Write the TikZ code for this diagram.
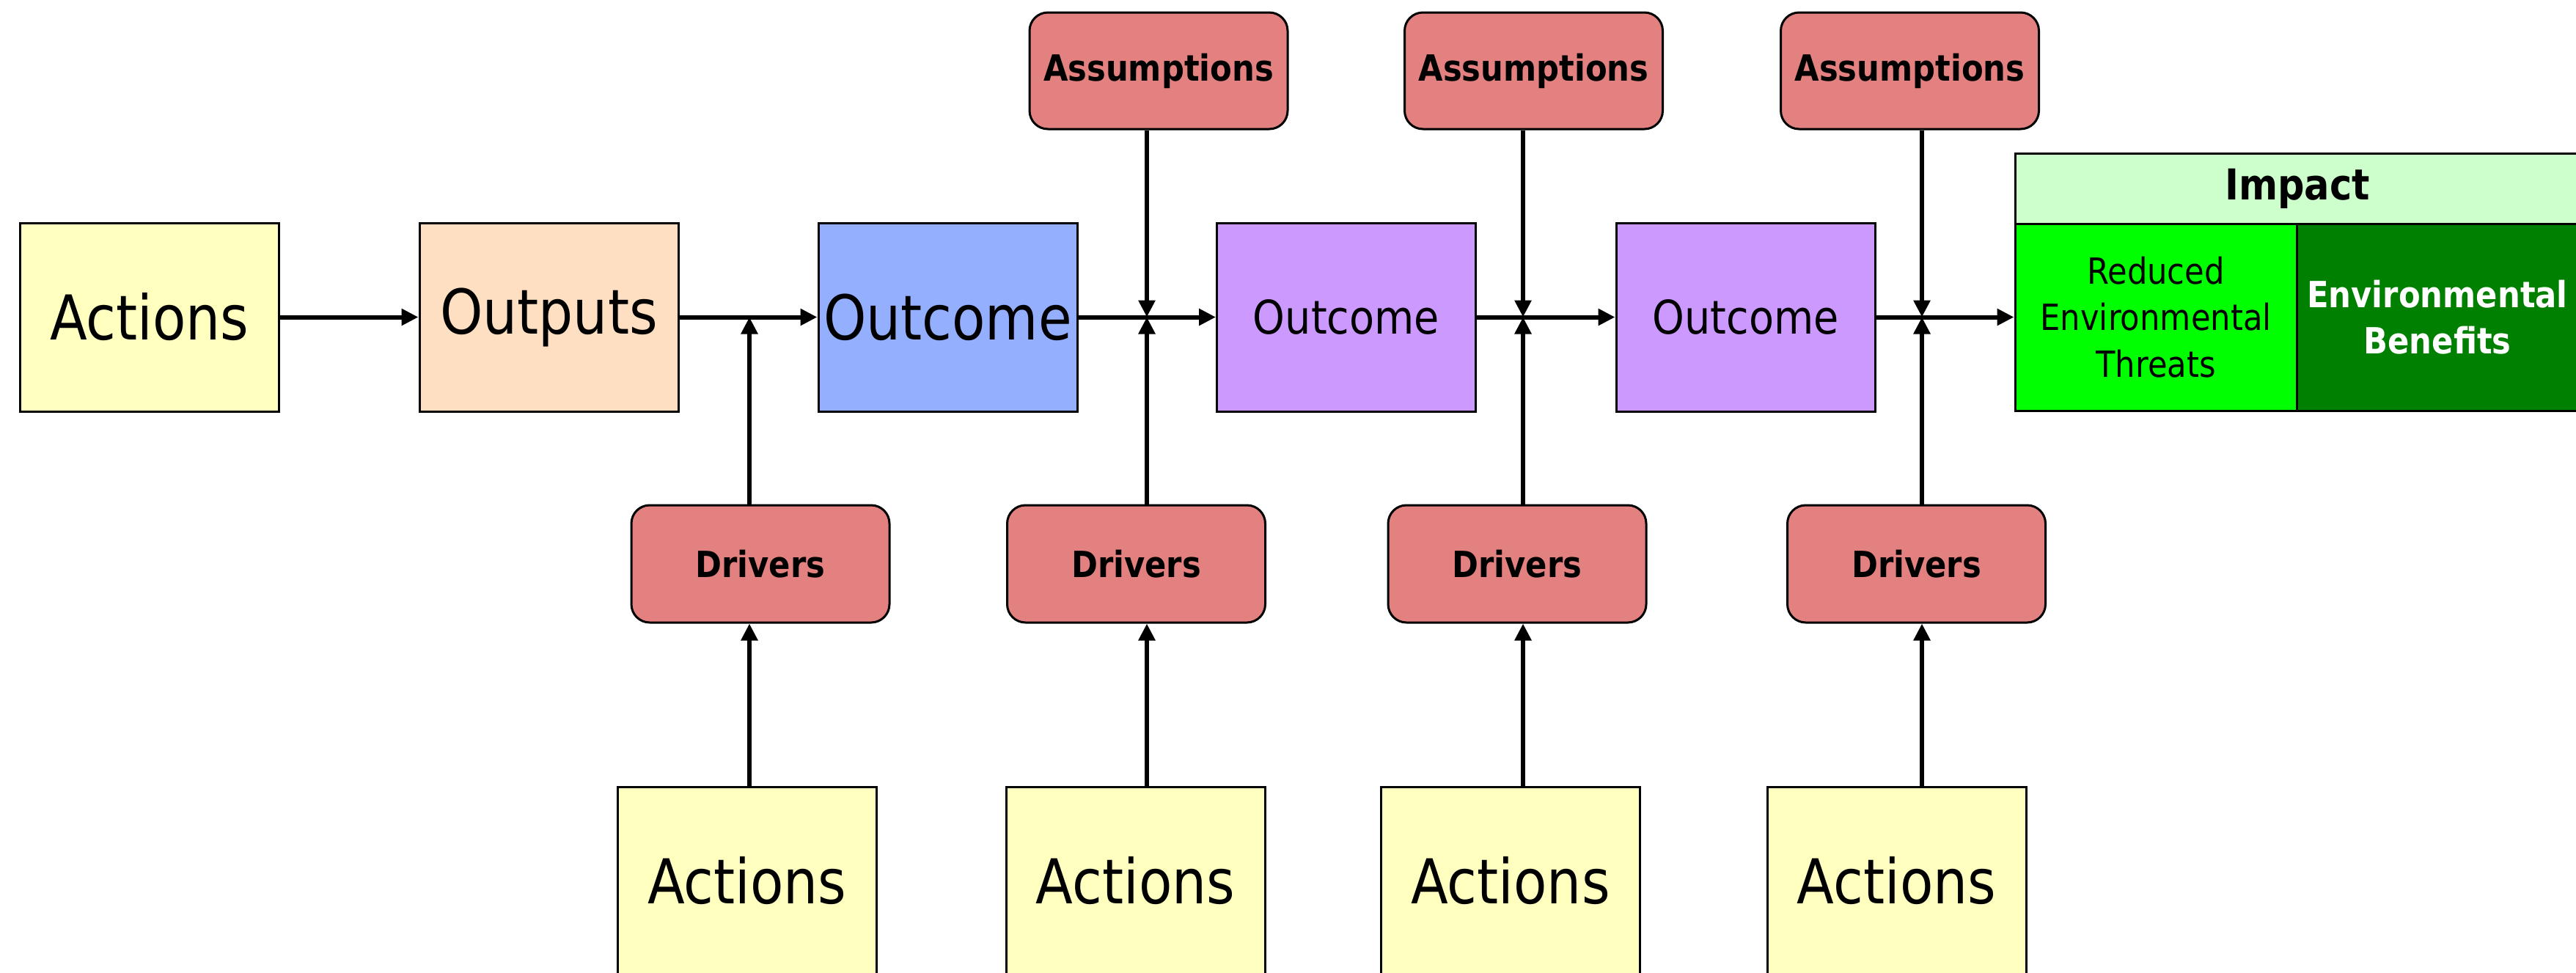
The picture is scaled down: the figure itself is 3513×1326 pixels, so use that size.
\documentclass[tikz,border=0pt]{standalone}
\usepackage{fontspec}
\setmainfont{DejaVu Sans}[FakeStretch=0.88]
\usetikzlibrary{arrows.meta}
\definecolor{cYel}{HTML}{FFFFC0}
\definecolor{cPeach}{HTML}{FFDFC2}
\definecolor{cBlue}{HTML}{95AFFF}
\definecolor{cPurp}{HTML}{CC99FF}
\definecolor{cRed}{HTML}{E38080}
\definecolor{cImpH}{HTML}{CCFFCC}
\definecolor{cLime}{HTML}{00FF00}
\definecolor{cDkGreen}{HTML}{008000}
\tikzset{
  base/.style={draw=black, line width=0.3mm, inner sep=0pt, align=center, text=black},
  bigbox/.style={base, minimum width=35.3mm, minimum height=25.7mm, font=\fontsize{24}{28}\selectfont},
  yelbox/.style={bigbox, fill=cYel},
  peachbox/.style={bigbox, fill=cPeach},
  bluebox/.style={bigbox, fill=cBlue},
  purpbox/.style={bigbox, fill=cPurp, font=\fontsize{18}{22}\selectfont},
  assumbox/.style={base, fill=cRed, rounded corners=2.5mm, minimum width=35.2mm, minimum height=15.9mm, font=\bfseries\fontsize{14}{17}\selectfont},
  drivbox/.style={base, fill=cRed, rounded corners=2.5mm, minimum width=35.2mm, minimum height=16mm, font=\bfseries\fontsize{14}{17}\selectfont},
  imphead/.style={base, fill=cImpH, minimum width=77mm, minimum height=9.6mm, font=\bfseries\fontsize{16.5}{20}\selectfont},
  impcell/.style={base, minimum width=38.4mm, minimum height=25.5mm, font=\fontsize{14}{18}\selectfont},
  conn/.style={line width=0.6mm, -{Triangle[length=2.3mm,width=2.2mm]}},
}
\begin{document}
\begin{tikzpicture}[x=0.1mm, y=-0.1mm]
\useasboundingbox (0,0) rectangle (3513,1326);
\clip (0,0) rectangle (3513,1326);
% main row
\node[yelbox]   (a0)  at (204,432.5)    {Actions};
\node[peachbox] (out) at (748.5,432.5)  {Outputs};
\node[bluebox]  (oc1) at (1292.5,432.5) {Outcome};
\node[purpbox]  (oc2) at (1836,432.5)   {Outcome};
\node[purpbox]  (oc3) at (2380.5,432.5) {Outcome};
% impact
\node[imphead] (imp) at (3133,257) {Impact};
\node[impcell, fill=cLime] (red) at (2940,432.5) {Reduced\\Environmental\\Threats};
\node[impcell, fill=cDkGreen, text=white, font=\bfseries\fontsize{14}{18}\selectfont] (ben) at (3324,432.5) {Environmental\\Benefits};
% assumptions
\node[assumbox] (as1) at (1580,96.5)   {Assumptions};
\node[assumbox] (as2) at (2091.5,96.5) {Assumptions};
\node[assumbox] (as3) at (2604.5,96.5) {Assumptions};
% drivers
\node[drivbox] (d1) at (1037,769)   {Drivers};
\node[drivbox] (d2) at (1549.5,769) {Drivers};
\node[drivbox] (d3) at (2069,769)   {Drivers};
\node[drivbox] (d4) at (2613.5,769) {Drivers};
% bottom actions
\node[yelbox] (b1) at (1019,1201.5)   {Actions};
\node[yelbox] (b2) at (1548.5,1201.5) {Actions};
\node[yelbox] (b3) at (2060,1201.5)   {Actions};
\node[yelbox] (b4) at (2586.5,1201.5) {Actions};
% junctions
\coordinate (j1) at (1022,432.5);
\coordinate (j2) at (1564,432.5);
\coordinate (j3) at (2077,432.5);
\coordinate (j4) at (2621,432.5);
% horizontal connectors
\draw[conn] (a0) -- (out);
\draw[conn] (out) -- (oc1);
\draw[conn] (oc1) -- (oc2);
\draw[conn] (oc2) -- (oc3);
\draw[conn] (oc3) -- (red);
% actions -> drivers
\draw[conn] (b1.north -| j1) -- (d1.south -| j1);
\draw[conn] (b2.north -| j2) -- (d2.south -| j2);
\draw[conn] (b3.north -| j3) -- (d3.south -| j3);
\draw[conn] (b4.north -| j4) -- (d4.south -| j4);
% drivers -> main line
\draw[conn] (d1.north -| j1) -- (j1);
\draw[conn] (d2.north -| j2) -- (j2);
\draw[conn] (d3.north -| j3) -- (j3);
\draw[conn] (d4.north -| j4) -- (j4);
% assumptions -> main line
\draw[conn] (as1.south -| j2) -- (j2);
\draw[conn] (as2.south -| j3) -- (j3);
\draw[conn] (as3.south -| j4) -- (j4);
\end{tikzpicture}
\end{document}
